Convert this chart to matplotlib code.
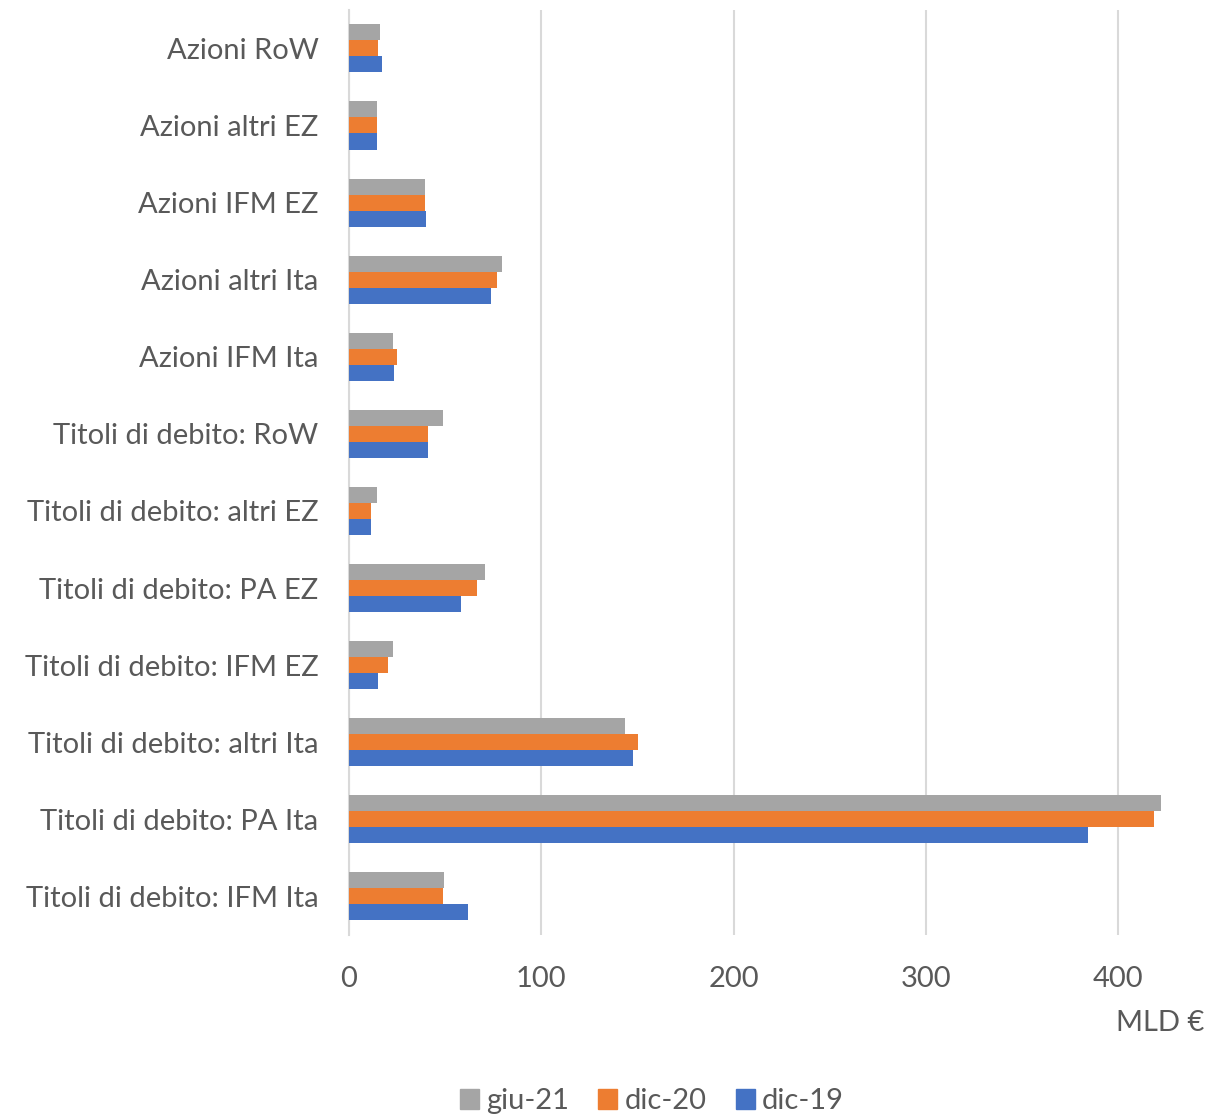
import matplotlib.pyplot as plt
import numpy as np
from matplotlib.patches import Patch

plt.rcParams["font.family"] = ["Lato", "DejaVu Sans"]

# categories listed bottom -> top
categories = [
    "Titoli di debito: IFM Ita",
    "Titoli di debito: PA Ita",
    "Titoli di debito: altri Ita",
    "Titoli di debito: IFM EZ",
    "Titoli di debito: PA EZ",
    "Titoli di debito: altri EZ",
    "Titoli di debito: RoW",
    "Azioni IFM Ita",
    "Azioni altri Ita",
    "Azioni IFM EZ",
    "Azioni altri EZ",
    "Azioni RoW",
]

dic19 = [61.9, 384.0, 147.9, 15.2, 58.4, 11.6, 41.2, 23.2, 73.6, 39.8, 14.4, 17.0]
dic20 = [49.0, 418.6, 150.4, 20.4, 66.7, 11.6, 40.9, 24.9, 77.1, 39.7, 14.4, 14.9]
giu21 = [49.3, 422.1, 143.6, 22.7, 70.9, 14.4, 49.0, 22.9, 79.7, 39.7, 14.7, 16.1]

series = [("dic-19", dic19, "#4472C4"), ("dic-20", dic20, "#ED7D31"), ("giu-21", giu21, "#A5A5A5")]

text_col = "#595959"

fig = plt.figure(figsize=(12.3, 11.16), dpi=100)
ax = fig.add_axes([0.2837, 0.1622, 0.696, 0.829])

y = np.arange(len(categories))
h = 0.208
for i, (name, vals, col) in enumerate(series):
    ax.barh(y + (i - 1) * h, vals, height=h, color=col, label=name, zorder=3)

ax.set_ylim(-0.5, len(categories) - 0.5)
ax.set_xlim(0, 445)
ax.set_xticks([0, 100, 200, 300, 400])
ax.set_yticks(y)
ax.set_yticklabels(categories)

ax.grid(axis="x", color="#D9D9D9", linewidth=1.5, zorder=0)
for s in ["top", "right", "bottom"]:
    ax.spines[s].set_visible(False)
ax.spines["left"].set_color("#D9D9D9")
ax.spines["left"].set_linewidth(1.5)

ax.tick_params(axis="both", length=0, labelsize=21, colors=text_col)
ax.tick_params(axis="y", pad=22)
ax.tick_params(axis="x", pad=22)

fig.text(0.979, 0.083, "MLD €", ha="right", va="center", fontsize=21, color=text_col)

handles = [Patch(color=c, label=n) for n, _, c in series[::-1]]
fig.legend(handles=handles, loc="center", bbox_to_anchor=(0.53, 0.013), ncol=3,
           frameon=False, fontsize=21, labelcolor=text_col, handlelength=0.65,
           handleheight=0.7, handletextpad=0.25, columnspacing=1.0)

fig.savefig("out.png")
